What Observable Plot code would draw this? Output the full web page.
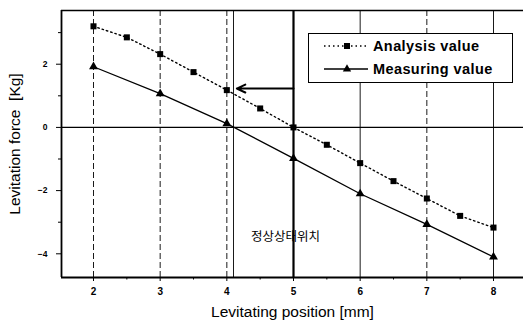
<!DOCTYPE html>
<html>
<head>
<meta charset="utf-8">
<script src="https://cdn.jsdelivr.net/npm/d3@7"></script>
<script src="https://cdn.jsdelivr.net/npm/@observablehq/plot@0.6"></script>
<style>
  html, body { margin: 0; padding: 0; background: #fff; }
  #wrap { position: relative; width: 523px; height: 328px; font-family: "Liberation Sans", Arial, sans-serif; }
  #legend { position: absolute; left: 308px; top: 33px; width: 203px; height: 48px; border: 1.4px solid #000; background: #fff; }
  .row { position: absolute; left: 14px; height: 18px; display: flex; align-items: center; font-size: 14.5px; font-weight: bold; letter-spacing: 0.4px; color: #000; white-space: nowrap; }
  .row svg { margin-right: 4px; }
</style>
</head>
<body>
<div id="wrap"></div>
<script>
// ---- data ----
const analysisX = [2, 2.5, 3, 3.5, 4, 4.5, 5, 5.5, 6, 6.5, 7, 7.5, 8];
const analysisY = [3.2, 2.85, 2.32, 1.75, 1.18, 0.6, 0.0, -0.55, -1.13, -1.7, -2.25, -2.8, -3.17];
const measuringX = [2, 3, 4, 5, 6, 7, 8];
const measuringY = [1.92, 1.07, 0.12, -0.98, -2.1, -3.07, -4.1];
const xTicks = [2, 3, 4, 5, 6, 7, 8];
const xMinorTicks = [2.5, 3.5, 4.5, 5.5, 6.5, 7.5];
const yTicks = [-4, -2, 0, 2];
const yMinorTicks = [-3, -1, 1, 3];
const gridDashed = [2, 3, 4, 7];
const gridSolid = [4.1, 6, 8];
const steadyX = [5];
const arrowData = [{x1: 5, x2: 4.15, y: 1.23}];
const note = [{x: 4.88, y: -3.48, text: "정상상태위치"}];
const xDomain = [1.52, 8.45];
const yDomain = [-4.75, 3.7];
const seriesNames = ["Analysis value", "Measuring value"];

const analysis = analysisX.map((x, i) => ({x, y: analysisY[i]}));
const measuring = measuringX.map((x, i) => ({x, y: measuringY[i]}));

const font = "Liberation Sans, Arial, sans-serif";

const chart = Plot.plot({
  width: 523,
  height: 328,
  marginLeft: 61,
  marginRight: 0,
  marginTop: 10,
  marginBottom: 51,
  style: {fontFamily: font, background: "#fff", color: "#000"},
  x: {domain: xDomain},
  y: {domain: yDomain},
  marks: [
    Plot.ruleX(gridDashed, {stroke: "#000", strokeWidth: 0.9, strokeDasharray: "6,3"}),
    Plot.ruleX(gridSolid, {stroke: "#000", strokeWidth: 0.9}),
    Plot.ruleX(steadyX, {stroke: "#000", strokeWidth: 2.2}),
    Plot.ruleY([0], {stroke: "#000", strokeWidth: 1.4}),
    // frame
    Plot.ruleY([yDomain[1]], {stroke: "#000", strokeWidth: 1.6}),
    Plot.ruleY([yDomain[0]], {stroke: "#000", strokeWidth: 1.8}),
    Plot.ruleX([xDomain[0]], {stroke: "#000", strokeWidth: 1.8}),
    // axes
    Plot.axisX({ticks: xTicks, tickSize: 4, tickPadding: 6, fontSize: 10, fontWeight: "bold", label: null, tickFormat: d3.format("d")}),
    Plot.axisX({ticks: xMinorTicks, tickSize: 2.5, tickFormat: () => "", label: null}),
    Plot.axisY({ticks: yTicks, tickSize: 5, tickPadding: 9, fontSize: 8.5, fontWeight: "bold", label: null, tickFormat: d3.format("d")}),
    Plot.axisY({ticks: yMinorTicks, tickSize: 3, tickFormat: () => "", label: null}),
    // series
    Plot.line(analysis, {x: "x", y: "y", stroke: "#000", strokeWidth: 1.4, strokeDasharray: "1.5,3"}),
    Plot.dot(analysis, {x: "x", y: "y", symbol: "square", r: 3.4, fill: "#000", stroke: "none"}),
    Plot.line(measuring, {x: "x", y: "y", stroke: "#000", strokeWidth: 1.3}),
    Plot.dot(measuring, {x: "x", y: "y", symbol: "triangle", r: 3.3, fill: "#000", stroke: "none"}),
    // annotations
    Plot.arrow(arrowData, {x1: "x1", x2: "x2", y1: "y", y2: "y", stroke: "#000", strokeWidth: 2, headLength: 7, headAngle: 50}),
    Plot.text(note, {x: "x", y: "y", text: "text", fontSize: 12.5, fill: "#000", fontFamily: "Noto Sans CJK KR"}),
    // axis titles
    Plot.text(["Levitation force  [Kg]"], {frameAnchor: "left", dx: -46, rotate: -90, textAnchor: "middle", lineAnchor: "middle", fontSize: 15.5, fill: "#000"}),
    Plot.text(["Levitating position [mm]"], {frameAnchor: "bottom", dy: 35, textAnchor: "middle", lineAnchor: "middle", fontSize: 15.5, fill: "#000"})
  ]
});

const wrap = document.getElementById("wrap");
wrap.appendChild(chart);

// legend overlay
const legend = document.createElement("div");
legend.id = "legend";
const rows = [
  {name: seriesNames[0], dash: "1.5,3", sym: "square", top: 3},
  {name: seriesNames[1], dash: null, sym: "triangle", top: 26}
];
for (const r of rows) {
  const row = document.createElement("div");
  row.className = "row";
  row.style.top = r.top + "px";
  const s = d3.create("svg").attr("width", 46).attr("height", 12);
  s.append("line").attr("x1", 1).attr("x2", 45).attr("y1", 6).attr("y2", 6)
    .attr("stroke", "#000").attr("stroke-width", 1.3)
    .attr("stroke-dasharray", r.dash);
  s.append("path").attr("transform", "translate(24,6)")
    .attr("d", d3.symbol(r.sym === "square" ? d3.symbolSquare : d3.symbolTriangle, r.sym === "square" ? 36 : 30)())
    .attr("fill", "#000");
  row.appendChild(s.node());
  const t = document.createElement("span");
  t.textContent = r.name;
  row.appendChild(t);
  legend.appendChild(row);
}
wrap.appendChild(legend);
</script>
</body>
</html>
